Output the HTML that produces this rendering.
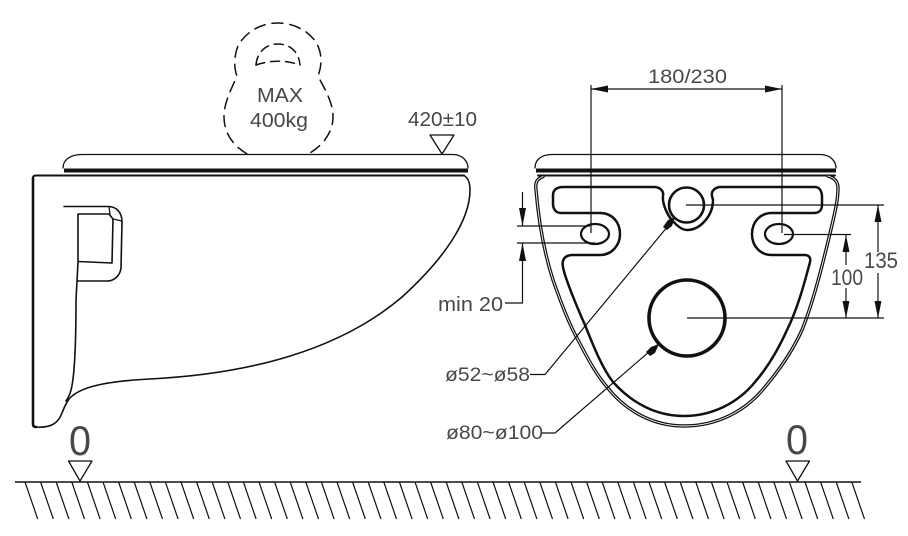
<!DOCTYPE html>
<html>
<head>
<meta charset="utf-8">
<style>
html,body{margin:0;padding:0;background:#fff;width:908px;height:536px;overflow:hidden}
svg{display:block}
text{font-family:"Liberation Sans",sans-serif;fill:#484848}
</style>
</head>
<body>
<svg width="908" height="536" viewBox="0 0 908 536" xmlns="http://www.w3.org/2000/svg">
<g fill="none" stroke="#111" stroke-width="1.3" stroke-linejoin="round" stroke-linecap="round">
  <!-- kettlebell -->
  <path d="M247 154 C232 145 224 132 224 117 C224 103 230 92 237 76 C233 66 235 53 238 46 C246 31 262 23 278 23 C296 23 312 33 318 46 C322 55 322 66 318 76 C325 90 333 102 333 117 C333 132 323 146 308 154" stroke-dasharray="11 7" stroke-width="1.5"/>
  <path d="M256 65 C257 52 266 44 278 44 C290 44 299 52 300 65" stroke-dasharray="9 6" stroke-width="1.5"/>
  <path d="M256 65 C270 60 286 60 300 65" stroke-dasharray="9 6" stroke-width="1.5"/>

  <!-- left seat -->
  <path d="M63 168 C63 160 70 154.5 82 154.5 L453 154.5 C462 154.5 468 161 468 168"/>
  <path d="M64 170.5 L468 170.5" stroke-width="4" stroke-linecap="butt"/>
  <path d="M36 175.500 L464 175.500" stroke-width="2"/>
  <!-- left body -->
  <path d="M33 178 L33 424 Q33 427 36 427" stroke-width="2.6"/>
  <path d="M33 178 Q33 175.5 36 175.5" stroke-width="2"/>
  <path d="M36 427 C50 428 58 424 62 413 C65 405 67 402 69 399 C80 386 110 381 150 379 C250 374 340 350 402 297 C445 258 470 220 470 190 C470 182 468 178 464 175.5" stroke-width="1.6"/>
  <path d="M64 206.5 L108 206.5 C117 206.5 122 213 122 222 L121 268 C120 276 114 281 107 281 L78 281" stroke-width="1.6"/>
  <path d="M78 214 L109 214 L113 219 L112 263 L78 261.5 M78 214 L78 262 L77 281 L76 300 C76 340 75 375 71 390 C70 395 68 398 66 401" stroke-width="1.6"/>
  <path d="M109 207 L110 214 M113 219 L122 221" stroke-width="1.3"/>
  <!-- 420 triangle -->
  <path d="M430 135 L454 135 L442 154 Z" stroke-width="1.3"/>

  <!-- right seat -->
  <path d="M535 168 C535 160 541 154.5 552 154.5 L820 154.5 C830 154.5 836 161 836 168"/>
  <path d="M536 170.5 L836 170.5" stroke-width="4" stroke-linecap="butt"/>
  <path d="M538 175.5 L835 175.500" stroke-width="2"/>
  <!-- right bowl outer double -->
  <path d="M543 176.500 C537 179 535 182 536 190 C539 225 545 255 553 280 C560 300 568 322 577 338 C587 357 595 373 607 387 C625 410 652 426 684 426 C716 426 745 412 765 387 C781 368 793 350 802 330 C815 298 826 250 832 225 C836 208 838 198 838 188 C838 182 835 178 828 176" stroke-width="3.400"/>
  <path d="M543 176.500 C537 179 535 182 536 190 C539 225 545 255 553 280 C560 300 568 322 577 338 C587 357 595 373 607 387 C625 410 652 426 684 426 C716 426 745 412 765 387 C781 368 793 350 802 330 C815 298 826 250 832 225 C836 208 838 198 838 188 C838 182 835 178 828 176" stroke-width="0.9" stroke="#fff"/>
  <!-- panel -->
  <path d="M572 255 L600 255 C612 255 620 245 620 234 C620 222 612 213 600 213 L561 213 C556 213 553 209 553 204 L553 195 C553 190 557 187 563 187 L654 187 C660 187 664 191 663 196 C662 204 668 216 672 220 C677 226 682 230 687 230 C700 230 713 216 713 200 L712 196 C711 191 715 187 721 187 L815 187 C820 187 822 192 822 197 L822 205 C822 210 819 213 814 213 L772 213 C760 213 752 222 752 234 C752 246 760 255 772 255 L805 255 C809 255 811 258 810 262 C804 285 797 310 787 330 C778 350 768 367 755 382 C738 403 712 416 684 416 C656 416 632 403 613 382 C602 368 593 345 585 325 C577 307 570 290 565 275 C563 268 562 264 563 261 C564 257 568 255 572 255 Z" stroke-width="2.500"/>
  <ellipse cx="595" cy="234" rx="14" ry="10" stroke-width="2.200"/>
  <ellipse cx="779" cy="234" rx="14" ry="10" stroke-width="2.200"/>
  <circle cx="686.5" cy="205" r="17.500" stroke-width="2.600"/>
  <circle cx="687" cy="318" r="38" stroke-width="3.600"/>

  <!-- dimensions -->
  <g stroke-width="1.2" stroke-linecap="butt">
    <path d="M591 85 L591 233 M782 85 L782 233 M591 89 L782 89"/>
    <path d="M517 226 L590 226 M517 243 L595 243"/>
    <path d="M522.5 192 L522.5 226 M522.5 243 L522.5 303 L505 303"/>
    <path d="M686 205 L884 205 M784 234.5 L851 234.5 M687 318 L884 318"/>
    <path d="M878 205 L878 252 M878 273 L878 318 M846 235 L846 265 M846 288 L846 318"/>
    <path d="M673 220 L545 374.5 L530 374.5"/>
    <path d="M657 345 L555 433 L541 433"/>
  </g>
  <!-- ground -->
  <path d="M15 482 L861 482" stroke-width="1.5" stroke-linecap="butt"/>
  <g stroke-width="1.2" stroke-linecap="butt">
    <path d="M25 482l12.7 37M40.6 482l12.7 37M56.2 482l12.7 37M71.8 482l12.7 37M87.4 482l12.7 37M103 482l12.7 37M118.6 482l12.7 37M134.2 482l12.7 37M149.8 482l12.7 37M165.4 482l12.7 37M181 482l12.7 37M196.6 482l12.7 37M212.2 482l12.7 37M227.8 482l12.7 37M243.4 482l12.7 37M259 482l12.7 37M274.6 482l12.7 37M290.2 482l12.7 37M305.8 482l12.7 37M321.4 482l12.7 37M337 482l12.7 37M352.6 482l12.7 37M368.2 482l12.7 37M383.8 482l12.7 37M399.4 482l12.7 37M415 482l12.7 37M430.6 482l12.7 37M446.2 482l12.7 37M461.8 482l12.7 37M477.4 482l12.7 37M493 482l12.7 37M508.6 482l12.7 37M524.2 482l12.7 37M539.8 482l12.7 37M555.4 482l12.7 37M571 482l12.7 37M586.6 482l12.7 37M602.2 482l12.7 37M617.8 482l12.7 37M633.4 482l12.7 37M649 482l12.7 37M664.6 482l12.7 37M680.2 482l12.7 37M695.8 482l12.7 37M711.4 482l12.7 37M727 482l12.7 37M742.6 482l12.7 37M758.2 482l12.7 37M773.8 482l12.7 37M789.4 482l12.7 37M805 482l12.7 37M820.6 482l12.7 37M836.2 482l12.7 37M851.8 482l12.7 37"/>
  </g>
  <path d="M68.5 461 L92 461 L80 481 Z" stroke-width="1.3"/>
  <path d="M786 461 L809.500 461 L797.500 481 Z" stroke-width="1.3"/>
</g>
<!-- arrowheads -->
<g fill="#111" stroke="none">
  <path d="M591 89 L608 85.500 L608 92.500 Z"/>
  <path d="M782 89 L765 85.500 L765 92.500 Z"/>
  <path d="M522.500 226 L519 208 L526 208 Z"/>
  <path d="M522.500 243 L519 261 L526 261 Z"/>
  <path d="M878 205 L874.500 222 L881.500 222 Z"/>
  <path d="M878 318 L874.500 301 L881.500 301 Z"/>
  <path d="M846 235 L842.500 252 L849.500 252 Z"/>
  <path d="M846 318 L842.500 301 L849.500 301 Z"/>
  <path d="M675 217 L668 220 L663 227 L667 230 L672 226 Z"/>
  <path d="M659 344 L651 347 L646 352 L650 356 L655 353 Z"/>
</g>
<!-- labels -->
<text x="257" y="102" font-size="20" textLength="46" lengthAdjust="spacingAndGlyphs">MAX</text>
<text x="250" y="127" font-size="20" textLength="58" lengthAdjust="spacingAndGlyphs">400kg</text>
<text x="408" y="126" font-size="20" textLength="69" lengthAdjust="spacingAndGlyphs">420±10</text>
<text x="648" y="83" font-size="19" textLength="79" lengthAdjust="spacingAndGlyphs">180/230</text>
<text x="438" y="311" font-size="20" textLength="65" lengthAdjust="spacingAndGlyphs">min 20</text>
<text x="445" y="381" font-size="19" textLength="85" lengthAdjust="spacingAndGlyphs">ø52~ø58</text>
<text x="446" y="439" font-size="19" textLength="97" lengthAdjust="spacingAndGlyphs">ø80~ø100</text>
<text x="864" y="268" font-size="22" textLength="34" lengthAdjust="spacingAndGlyphs">135</text>
<text x="831" y="285" font-size="22" textLength="32" lengthAdjust="spacingAndGlyphs">100</text>
<text x="69" y="455" font-size="42" textLength="22" lengthAdjust="spacingAndGlyphs">0</text>
<text x="786" y="454" font-size="42" textLength="22" lengthAdjust="spacingAndGlyphs">0</text>
</svg>
</body>
</html>
